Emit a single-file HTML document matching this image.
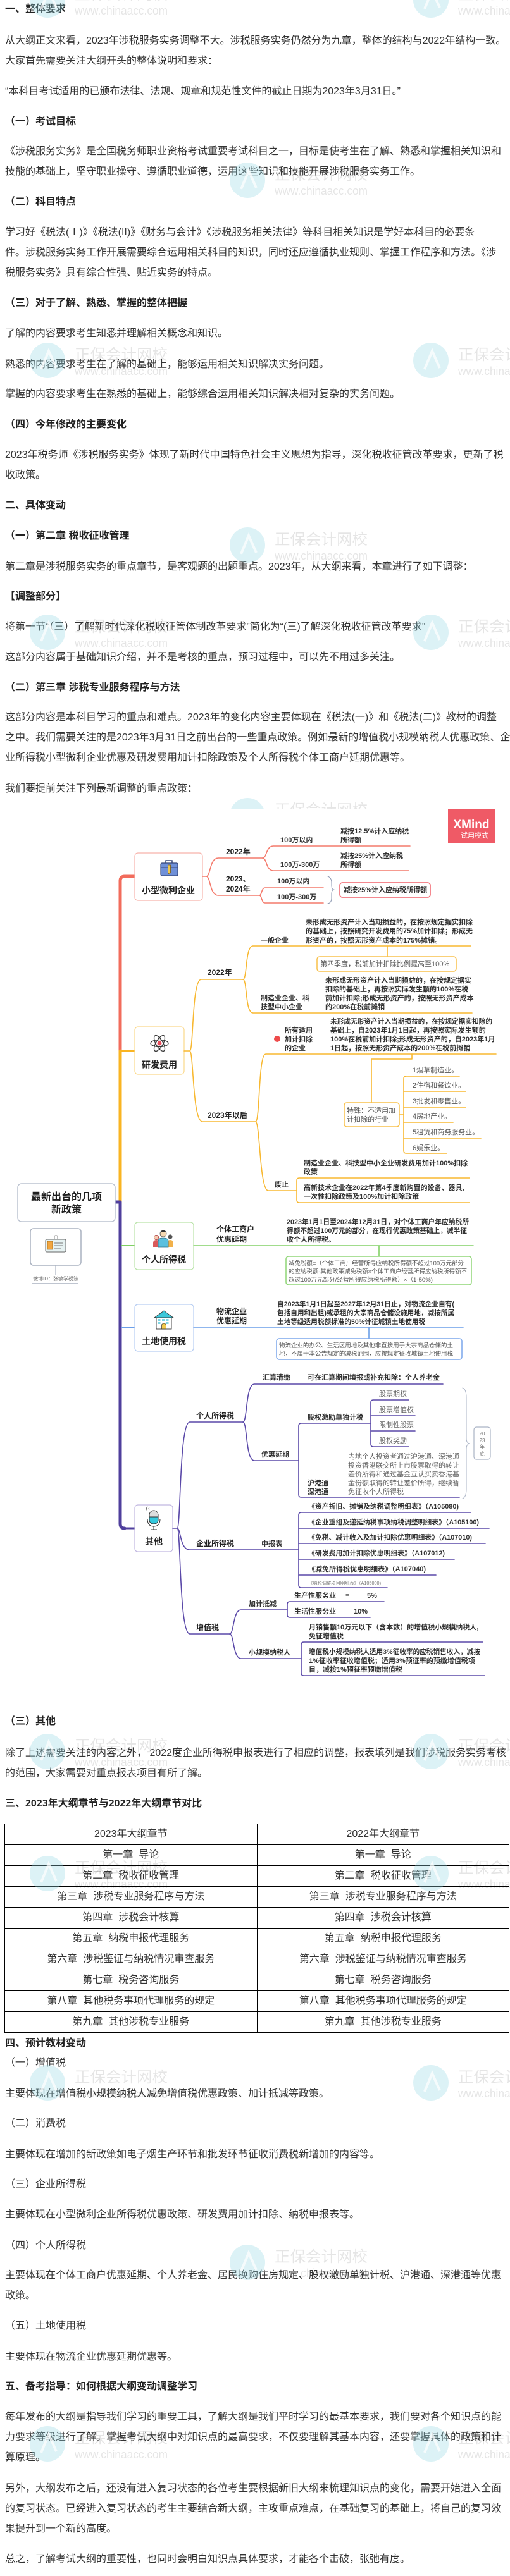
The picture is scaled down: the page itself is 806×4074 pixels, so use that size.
<!DOCTYPE html>
<html lang="zh-CN">
<head>
<meta charset="utf-8">
<title>2023年税务师《涉税服务实务》大纲变化</title>
<style>
html,body{margin:0;padding:0;background:#fff;}
body{width:806px;height:4074px;position:relative;overflow:hidden;font-family:"Liberation Sans","Noto Sans CJK SC",sans-serif;}
.p{position:absolute;left:8px;white-space:nowrap;font-size:16px;line-height:32px;color:#333;z-index:1;}
.h{font-weight:bold;color:#222;}
.wm{position:absolute;left:0;top:0;z-index:2;pointer-events:none;}
table.cmp{position:absolute;left:7px;top:2884px;width:798px;border-collapse:collapse;z-index:1;}
table.cmp td{border:1px solid #000;height:32px;padding:0;text-align:center;font-size:16px;line-height:32px;color:#333;width:50%;white-space:nowrap;}
svg.mm{position:absolute;left:0;top:1280px;z-index:3;}
svg.mm text{font-family:"Liberation Sans","Noto Sans CJK SC",sans-serif;}
.t{font-size:11px;font-weight:bold;fill:#333;}
.g{font-size:11px;fill:#666;}
.g5{font-size:11px;fill:#555;}
.b{font-size:12px;font-weight:bold;fill:#222;}
.n{font-size:14px;font-weight:bold;fill:#222;text-anchor:middle;}
.ln{fill:none;stroke-linecap:round;stroke-linejoin:round;}
</style>
</head>
<body>

<div class="p h" style="top:-1px">一、整体要求</div>
<div class="p" style="top:49px">从大纲正文来看，2023年涉税服务实务调整不大。涉税服务实务仍然分为九章，整体的结构与2022年结构一致。<br>大家首先需要关注大纲开头的整体说明和要求：</div>
<div class="p" style="top:129px">“本科目考试适用的已颁布法律、法规、规章和规范性文件的截止日期为2023年3月31日。”</div>
<div class="p h" style="top:177px">（一）考试目标</div>
<div class="p" style="top:224px">《涉税服务实务》是全国税务师职业资格考试重要考试科目之一，目标是使考生在了解、熟悉和掌握相关知识和<br>技能的基础上，坚守职业操守、遵循职业道德，运用这些知识和技能开展涉税服务实务工作。</div>
<div class="p h" style="top:304px">（二）科目特点</div>
<div class="p" style="top:352px">学习好《税法(Ⅰ)》《税法(II)》《财务与会计》《涉税服务相关法律》等科目相关知识是学好本科目的必要条<br>件。涉税服务实务工作开展需要综合运用相关科目的知识，同时还应遵循执业规则、掌握工作程序和方法。《涉<br>税服务实务》具有综合性强、贴近实务的特点。</div>
<div class="p h" style="top:464px">（三）对于了解、熟悉、掌握的整体把握</div>
<div class="p" style="top:512px">了解的内容要求考生知悉并理解相关概念和知识。</div>
<div class="p" style="top:561px">熟悉的内容要求考生在了解的基础上，能够运用相关知识解决实务问题。</div>
<div class="p" style="top:608px">掌握的内容要求考生在熟悉的基础上，能够综合运用相关知识解决相对复杂的实务问题。</div>
<div class="p h" style="top:656px">（四）今年修改的主要变化</div>
<div class="p" style="top:704px">2023年税务师《涉税服务实务》体现了新时代中国特色社会主义思想为指导，深化税收征管改革要求，更新了税<br>收政策。</div>
<div class="p h" style="top:784px">二、具体变动</div>
<div class="p h" style="top:832px">（一）第二章 税收征收管理</div>
<div class="p" style="top:881px">第二章是涉税服务实务的重点章节，是客观题的出题重点。2023年，从大纲来看，本章进行了如下调整：</div>
<div class="p h" style="top:928px">【调整部分】</div>
<div class="p" style="top:976px">将第一节“（三）了解新时代深化税收征管体制改革要求”简化为“(三)了解深化税收征管改革要求”</div>
<div class="p" style="top:1024px">这部分内容属于基础知识介绍，并不是考核的重点，预习过程中，可以先不用过多关注。</div>
<div class="p h" style="top:1072px">（二）第三章 涉税专业服务程序与方法</div>
<div class="p" style="top:1119px">这部分内容是本科目学习的重点和难点。2023年的变化内容主要体现在《税法(一)》和《税法(二)》教材的调整<br>之中。我们需要关注的是2023年3月31日之前出台的一些重点政策。例如最新的增值税小规模纳税人优惠政策、企<br>业所得税小型微利企业优惠及研发费用加计扣除政策及个人所得税个体工商户延期优惠等。</div>
<div class="p" style="top:1232px">我们要提前关注下列最新调整的重点政策：</div>

<div class="p h" style="top:2707px">（三）其他</div>
<div class="p" style="top:2757px">除了上述需要关注的内容之外， 2022度企业所得税申报表进行了相应的调整，报表填列是我们涉税服务实务考核<br>的范围，大家需要对重点报表项目有所了解。</div>
<div class="p h" style="top:2837px">三、2023年大纲章节与2022年大纲章节对比</div>

<table class="cmp">
<tr><td>2023年大纲章节</td><td>2022年大纲章节</td></tr>
<tr><td>第一章&nbsp; 导论</td><td>第一章&nbsp; 导论</td></tr>
<tr><td>第二章&nbsp; 税收征收管理</td><td>第二章&nbsp; 税收征收管理</td></tr>
<tr><td>第三章&nbsp; 涉税专业服务程序与方法</td><td>第三章&nbsp; 涉税专业服务程序与方法</td></tr>
<tr><td>第四章&nbsp; 涉税会计核算</td><td>第四章&nbsp; 涉税会计核算</td></tr>
<tr><td>第五章&nbsp; 纳税申报代理服务</td><td>第五章&nbsp; 纳税申报代理服务</td></tr>
<tr><td>第六章&nbsp; 涉税鉴证与纳税情况审查服务</td><td>第六章&nbsp; 涉税鉴证与纳税情况审查服务</td></tr>
<tr><td>第七章&nbsp; 税务咨询服务</td><td>第七章&nbsp; 税务咨询服务</td></tr>
<tr><td>第八章&nbsp; 其他税务事项代理服务的规定</td><td>第八章&nbsp; 其他税务事项代理服务的规定</td></tr>
<tr><td>第九章&nbsp; 其他涉税专业服务</td><td>第九章&nbsp; 其他涉税专业服务</td></tr>
</table>

<div class="p h" style="top:3216px">四、预计教材变动</div>
<div class="p" style="top:3247px">（一）增值税</div>
<div class="p" style="top:3296px">主要体现在增值税小规模纳税人减免增值税优惠政策、加计抵减等政策。</div>
<div class="p" style="top:3343px">（二）消费税</div>
<div class="p" style="top:3392px">主要体现在增加的新政策如电子烟生产环节和批发环节征收消费税新增加的内容等。</div>
<div class="p" style="top:3439px">（三）企业所得税</div>
<div class="p" style="top:3487px">主要体现在小型微利企业所得税优惠政策、研发费用加计扣除、纳税申报表等。</div>
<div class="p" style="top:3536px">（四）个人所得税</div>
<div class="p" style="top:3583px">主要体现在个体工商户优惠延期、个人养老金、居民换购住房规定、股权激励单独计税、沪港通、深港通等优惠<br>政策。</div>
<div class="p" style="top:3663px">（五）土地使用税</div>
<div class="p" style="top:3712px">主要体现在物流企业优惠延期优惠等。</div>
<div class="p h" style="top:3759px">五、备考指导：如何根据大纲变动调整学习</div>
<div class="p" style="top:3807px">每年发布的大纲是指导我们学习的重要工具，了解大纲是我们平时学习的最基本要求，我们要对各个知识点的能<br>力要求等级进行了解。掌握考试大纲中对知识点的最高要求，不仅要理解其基本内容，还要掌握具体的政策和计<br>算原理。</div>
<div class="p" style="top:3920px">另外，大纲发布之后，还没有进入复习状态的各位考生要根据新旧大纲来梳理知识点的变化，需要开始进入全面<br>的复习状态。已经进入复习状态的考生主要结合新大纲，主攻重点难点，在基础复习的基础上，将自己的复习效<br>果提升到一个新的高度。</div>
<div class="p" style="top:4032px">总之，了解考试大纲的重要性，也同时会明白知识点具体要求，才能各个击破，张弛有度。</div>

<!-- watermarks -->
<svg class="wm" width="806" height="4074" viewBox="0 0 806 4074">
<g style="font-family:'Liberation Sans','Noto Sans CJK SC',sans-serif">
<g transform="translate(75,0)"><circle r="28" fill="rgba(150,215,228,0.33)"/><path d="M-10 14 L2 -15 L14 12" fill="none" stroke="rgba(255,255,255,0.7)" stroke-width="4"/><text x="43" y="-1" font-size="24" fill="rgba(0,0,0,0.1)" textLength="147" lengthAdjust="spacingAndGlyphs">正保会计网校</text><text x="43" y="23" font-size="18" fill="rgba(0,0,0,0.1)" textLength="147" lengthAdjust="spacingAndGlyphs">www.chinaacc.com</text></g>
<g transform="translate(681,0)"><circle r="28" fill="rgba(150,215,228,0.33)"/><path d="M-10 14 L2 -15 L14 12" fill="none" stroke="rgba(255,255,255,0.7)" stroke-width="4"/><text x="43" y="-1" font-size="24" fill="rgba(0,0,0,0.1)" textLength="147" lengthAdjust="spacingAndGlyphs">正保会计网校</text><text x="43" y="23" font-size="18" fill="rgba(0,0,0,0.1)" textLength="147" lengthAdjust="spacingAndGlyphs">www.chinaacc.com</text></g>
<g transform="translate(391,285)"><circle r="28" fill="rgba(150,215,228,0.33)"/><path d="M-10 14 L2 -15 L14 12" fill="none" stroke="rgba(255,255,255,0.7)" stroke-width="4"/><text x="43" y="-1" font-size="24" fill="rgba(0,0,0,0.1)" textLength="147" lengthAdjust="spacingAndGlyphs">正保会计网校</text><text x="43" y="23" font-size="18" fill="rgba(0,0,0,0.1)" textLength="147" lengthAdjust="spacingAndGlyphs">www.chinaacc.com</text></g>
<g transform="translate(75,570)"><circle r="28" fill="rgba(150,215,228,0.33)"/><path d="M-10 14 L2 -15 L14 12" fill="none" stroke="rgba(255,255,255,0.7)" stroke-width="4"/><text x="43" y="-1" font-size="24" fill="rgba(0,0,0,0.1)" textLength="147" lengthAdjust="spacingAndGlyphs">正保会计网校</text><text x="43" y="23" font-size="18" fill="rgba(0,0,0,0.1)" textLength="147" lengthAdjust="spacingAndGlyphs">www.chinaacc.com</text></g>
<g transform="translate(681,570)"><circle r="28" fill="rgba(150,215,228,0.33)"/><path d="M-10 14 L2 -15 L14 12" fill="none" stroke="rgba(255,255,255,0.7)" stroke-width="4"/><text x="43" y="-1" font-size="24" fill="rgba(0,0,0,0.1)" textLength="147" lengthAdjust="spacingAndGlyphs">正保会计网校</text><text x="43" y="23" font-size="18" fill="rgba(0,0,0,0.1)" textLength="147" lengthAdjust="spacingAndGlyphs">www.chinaacc.com</text></g>
<g transform="translate(391,862)"><circle r="28" fill="rgba(150,215,228,0.33)"/><path d="M-10 14 L2 -15 L14 12" fill="none" stroke="rgba(255,255,255,0.7)" stroke-width="4"/><text x="43" y="-1" font-size="24" fill="rgba(0,0,0,0.1)" textLength="147" lengthAdjust="spacingAndGlyphs">正保会计网校</text><text x="43" y="23" font-size="18" fill="rgba(0,0,0,0.1)" textLength="147" lengthAdjust="spacingAndGlyphs">www.chinaacc.com</text></g>
<g transform="translate(75,1000)"><circle r="28" fill="rgba(150,215,228,0.33)"/><path d="M-10 14 L2 -15 L14 12" fill="none" stroke="rgba(255,255,255,0.7)" stroke-width="4"/><text x="43" y="-1" font-size="24" fill="rgba(0,0,0,0.1)" textLength="147" lengthAdjust="spacingAndGlyphs">正保会计网校</text><text x="43" y="23" font-size="18" fill="rgba(0,0,0,0.1)" textLength="147" lengthAdjust="spacingAndGlyphs">www.chinaacc.com</text></g>
<g transform="translate(681,1000)"><circle r="28" fill="rgba(150,215,228,0.33)"/><path d="M-10 14 L2 -15 L14 12" fill="none" stroke="rgba(255,255,255,0.7)" stroke-width="4"/><text x="43" y="-1" font-size="24" fill="rgba(0,0,0,0.1)" textLength="147" lengthAdjust="spacingAndGlyphs">正保会计网校</text><text x="43" y="23" font-size="18" fill="rgba(0,0,0,0.1)" textLength="147" lengthAdjust="spacingAndGlyphs">www.chinaacc.com</text></g>
<g transform="translate(391,1290)"><circle r="28" fill="rgba(150,215,228,0.33)"/><text x="43" y="-1" font-size="24" fill="rgba(0,0,0,0.1)" textLength="147" lengthAdjust="spacingAndGlyphs">正保会计网校</text></g>
<g transform="translate(75,2770)"><circle r="28" fill="rgba(150,215,228,0.33)"/><path d="M-10 14 L2 -15 L14 12" fill="none" stroke="rgba(255,255,255,0.7)" stroke-width="4"/><text x="43" y="-1" font-size="24" fill="rgba(0,0,0,0.1)" textLength="147" lengthAdjust="spacingAndGlyphs">正保会计网校</text><text x="43" y="23" font-size="18" fill="rgba(0,0,0,0.1)" textLength="147" lengthAdjust="spacingAndGlyphs">www.chinaacc.com</text></g>
<g transform="translate(681,2770)"><circle r="28" fill="rgba(150,215,228,0.33)"/><path d="M-10 14 L2 -15 L14 12" fill="none" stroke="rgba(255,255,255,0.7)" stroke-width="4"/><text x="43" y="-1" font-size="24" fill="rgba(0,0,0,0.1)" textLength="147" lengthAdjust="spacingAndGlyphs">正保会计网校</text><text x="43" y="23" font-size="18" fill="rgba(0,0,0,0.1)" textLength="147" lengthAdjust="spacingAndGlyphs">www.chinaacc.com</text></g>
<g transform="translate(75,2963)"><circle r="28" fill="rgba(150,215,228,0.33)"/><path d="M-10 14 L2 -15 L14 12" fill="none" stroke="rgba(255,255,255,0.7)" stroke-width="4"/><text x="43" y="-1" font-size="24" fill="rgba(0,0,0,0.1)" textLength="147" lengthAdjust="spacingAndGlyphs">正保会计网校</text><text x="43" y="23" font-size="18" fill="rgba(0,0,0,0.1)" textLength="147" lengthAdjust="spacingAndGlyphs">www.chinaacc.com</text></g>
<g transform="translate(681,2963)"><circle r="28" fill="rgba(150,215,228,0.33)"/><path d="M-10 14 L2 -15 L14 12" fill="none" stroke="rgba(255,255,255,0.7)" stroke-width="4"/><text x="43" y="-1" font-size="24" fill="rgba(0,0,0,0.1)" textLength="147" lengthAdjust="spacingAndGlyphs">正保会计网校</text><text x="43" y="23" font-size="18" fill="rgba(0,0,0,0.1)" textLength="147" lengthAdjust="spacingAndGlyphs">www.chinaacc.com</text></g>
<g transform="translate(75,3294)"><circle r="28" fill="rgba(150,215,228,0.33)"/><path d="M-10 14 L2 -15 L14 12" fill="none" stroke="rgba(255,255,255,0.7)" stroke-width="4"/><text x="43" y="-1" font-size="24" fill="rgba(0,0,0,0.1)" textLength="147" lengthAdjust="spacingAndGlyphs">正保会计网校</text><text x="43" y="23" font-size="18" fill="rgba(0,0,0,0.1)" textLength="147" lengthAdjust="spacingAndGlyphs">www.chinaacc.com</text></g>
<g transform="translate(681,3294)"><circle r="28" fill="rgba(150,215,228,0.33)"/><path d="M-10 14 L2 -15 L14 12" fill="none" stroke="rgba(255,255,255,0.7)" stroke-width="4"/><text x="43" y="-1" font-size="24" fill="rgba(0,0,0,0.1)" textLength="147" lengthAdjust="spacingAndGlyphs">正保会计网校</text><text x="43" y="23" font-size="18" fill="rgba(0,0,0,0.1)" textLength="147" lengthAdjust="spacingAndGlyphs">www.chinaacc.com</text></g>
<g transform="translate(391,3578)"><circle r="28" fill="rgba(150,215,228,0.33)"/><path d="M-10 14 L2 -15 L14 12" fill="none" stroke="rgba(255,255,255,0.7)" stroke-width="4"/><text x="43" y="-1" font-size="24" fill="rgba(0,0,0,0.1)" textLength="147" lengthAdjust="spacingAndGlyphs">正保会计网校</text><text x="43" y="23" font-size="18" fill="rgba(0,0,0,0.1)" textLength="147" lengthAdjust="spacingAndGlyphs">www.chinaacc.com</text></g>
<g transform="translate(75,3865)"><circle r="28" fill="rgba(150,215,228,0.33)"/><path d="M-10 14 L2 -15 L14 12" fill="none" stroke="rgba(255,255,255,0.7)" stroke-width="4"/><text x="43" y="-1" font-size="24" fill="rgba(0,0,0,0.1)" textLength="147" lengthAdjust="spacingAndGlyphs">正保会计网校</text><text x="43" y="23" font-size="18" fill="rgba(0,0,0,0.1)" textLength="147" lengthAdjust="spacingAndGlyphs">www.chinaacc.com</text></g>
<g transform="translate(681,3865)"><circle r="28" fill="rgba(150,215,228,0.33)"/><path d="M-10 14 L2 -15 L14 12" fill="none" stroke="rgba(255,255,255,0.7)" stroke-width="4"/><text x="43" y="-1" font-size="24" fill="rgba(0,0,0,0.1)" textLength="147" lengthAdjust="spacingAndGlyphs">正保会计网校</text><text x="43" y="23" font-size="18" fill="rgba(0,0,0,0.1)" textLength="147" lengthAdjust="spacingAndGlyphs">www.chinaacc.com</text></g>
</g>
</svg>

<!-- mind map -->
<svg class="mm" width="806" height="1410" viewBox="0 1280 806 1410">
<rect x="0" y="1280" width="806" height="1410" fill="#fff"/>

<!-- XMind badge -->
<rect x="708" y="1280" width="74" height="54" fill="#ef5a66"/>
<text x="745" y="1310" text-anchor="middle" style="font-size:19px;font-weight:bold;fill:#fff">XMind</text>
<text x="750" y="1325" text-anchor="middle" style="font-size:11px;fill:#fff">试用模式</text>

<!-- trunk -->
<path class="ln" d="M213 1386 H197 Q190 1386 190 1393 V1662" stroke="#f26c5c" stroke-width="5"/>
<path class="ln" d="M190 1662 V1901" stroke="#f9b422" stroke-width="5"/>
<path class="ln" d="M190 1662 H213" stroke="#f9b422" stroke-width="3"/>
<path class="ln" d="M182 1901 H190 V2410 Q190 2417 197 2417" stroke="#4f3f9c" stroke-width="5"/>
<path class="ln" d="M197 2417 H213" stroke="#4f3f9c" stroke-width="3"/>
<path class="ln" d="M192 1970 H213" stroke="#7fcf63" stroke-width="2"/>
<path class="ln" d="M192 2099 H213" stroke="#6a9ee8" stroke-width="2"/>

<!-- root -->
<rect x="28" y="1872" width="154" height="60" rx="6" fill="#fff" stroke="#bcc3d0" stroke-width="1.5"/>
<text x="105" y="1898" text-anchor="middle" style="font-size:16px;font-weight:bold;fill:#1e1e1e">最新出台的几项</text>
<text x="105" y="1918" text-anchor="middle" style="font-size:16px;font-weight:bold;fill:#1e1e1e">新政策</text>
<rect x="48" y="1943" width="80" height="58" rx="5" fill="#fff" stroke="#aab2c0" stroke-width="1.5"/>
<rect x="86" y="1954" width="5" height="7" rx="1.5" fill="#fff" stroke="#666" stroke-width="0.8"/>
<rect x="72" y="1960" width="32" height="20" rx="2" fill="#e6f2f2" stroke="#666" stroke-width="1"/>
<rect x="75" y="1963" width="8" height="13" fill="#f2a640" stroke="#8a5a10" stroke-width="0.6"/>
<path d="M86 1966 H100 M86 1970 H100 M86 1974 H97" stroke="#777" stroke-width="1"/>
<path d="M88 2001 V2016" stroke="#aab2c0" stroke-width="1.2"/>
<text x="88" y="2025" text-anchor="middle" style="font-size:8px;fill:#666">微博ID：张敏学税法</text>
<path d="M51 2030 H124" stroke="#aab2c0" stroke-width="1.5"/>

<!-- ========== branch 1: 小型微利企业 ========== -->
<rect x="213" y="1349" width="107" height="75" rx="5" fill="#fff" stroke="#f7b2aa" stroke-width="1.2"/>
<path d="M262 1365 V1361 H272 V1365" fill="none" stroke="#34467a" stroke-width="1.5"/>
<rect x="254" y="1365" width="27" height="20" rx="2" fill="#6f90d8" stroke="#34467a" stroke-width="1.2"/>
<line x1="254" y1="1372" x2="281" y2="1372" stroke="#34467a" stroke-width="1"/>
<path d="M265.5 1368 V1380 Q267.5 1384 269.5 1380 V1368 Z" fill="#f2c94c" stroke="#7a5a10" stroke-width="0.8"/>
<text class="n" x="266" y="1413">小型微利企业</text>

<g stroke="#f47a6c" stroke-width="1.6" class="ln">
<path d="M320 1386 H326 C333 1386 331 1357 345 1357 H415"/>
<path d="M326 1386 C333 1386 331 1416 345 1416 H410"/>
<path d="M415 1357 C422 1357 420 1338 432 1338 H648"/>
<path d="M415 1357 C422 1357 420 1377 432 1377 H646"/>
<path d="M410 1416 C414 1416 413 1404 419 1404 H511"/>
<path d="M410 1416 C414 1416 413 1428 419 1428 H511"/>
</g>
<path class="ln" d="M518 1386 Q524 1388 524 1396 V1400 Q524 1407 528 1407 Q524 1407 524 1414 V1420 Q524 1428 518 1429" stroke="#8a96b0" stroke-width="1"/>
<rect x="537" y="1396" width="143" height="23" rx="4" fill="#fff" stroke="#f0606a" stroke-width="1.5"/>
<text class="t" x="543" y="1411">减按25%计入应纳税所得额</text>
<text class="b" x="357" y="1351">2022年</text>
<text class="t" x="443" y="1332">100万以内</text>
<text class="t" x="538" y="1318">减按12.5%计入应纳税</text>
<text class="t" x="538" y="1332">所得额</text>
<text class="t" x="443" y="1371">100万-300万</text>
<text class="t" x="538" y="1357">减按25%计入应纳税</text>
<text class="t" x="538" y="1371">所得额</text>
<text class="b" x="357" y="1394">2023、</text>
<text class="b" x="357" y="1410">2024年</text>
<text class="t" x="438" y="1397">100万以内</text>
<text class="t" x="438" y="1422">100万-300万</text>

<!-- ========== branch 2: 研发费用 ========== -->
<rect x="213" y="1624" width="78" height="75" rx="5" fill="#fff" stroke="#fbd88a" stroke-width="1.2"/>
<g fill="none" stroke="#333" stroke-width="1.3">
<ellipse cx="252" cy="1650" rx="14" ry="5.5"/>
<ellipse cx="252" cy="1650" rx="14" ry="5.5" transform="rotate(60 252 1650)"/>
<ellipse cx="252" cy="1650" rx="14" ry="5.5" transform="rotate(-60 252 1650)"/>
</g>
<circle cx="252" cy="1650" r="3.5" fill="#e84a5a"/>
<text class="n" x="252" y="1689">研发费用</text>

<g stroke="#f8b830" stroke-width="1.6" class="ln">
<path d="M291 1662 H300 C306 1662 303 1549 318 1549 H384"/>
<path d="M300 1662 C306 1662 304 1774 320 1774 H404"/>
<path d="M384 1549 C391 1549 387 1496 400 1496 H744"/>
<path d="M384 1549 C391 1549 387 1602 400 1602 H746"/>
<path d="M612 1496 V1513"/>
<path d="M404 1774 C411 1774 408 1667 420 1667 H784"/>
<path d="M404 1774 C411 1774 410 1883 424 1883 H469"/>
<path d="M651 1667 V1675 H587 V1744"/>
<path d="M631 1763 H638"/>
<path d="M638 1763 V1706 Q638 1702 642 1702 H726"/>
<path d="M638 1726 H736"/>
<path d="M638 1751 H736"/>
<path d="M638 1775 H716"/>
<path d="M638 1800 H760"/>
<path d="M638 1763 V1820 Q638 1824 642 1824 H706"/>
<path d="M469 1883 V1867 Q469 1863 473 1863 H742"/>
<path d="M469 1883 V1898 Q469 1902 473 1902 H742"/>
</g>
<rect x="501" y="1513" width="220" height="23" rx="4" fill="#fff" stroke="#f8c04a" stroke-width="1.5"/>
<text class="g5" x="506" y="1528">第四季度，税前加计扣除比例提高至100%</text>
<rect x="544" y="1744" width="87" height="38" rx="4" fill="#fff" stroke="#f8c04a" stroke-width="1.5"/>
<text class="g5" x="548" y="1760">特殊：不适用加</text>
<text class="g5" x="548" y="1774">计扣除的行业</text>

<text class="b" x="328" y="1542">2022年</text>
<text class="t" x="412" y="1491">一般企业</text>
<text class="t" x="483" y="1462">未形成无形资产计入当期损益的，在按照规定据实扣除</text>
<text class="t" x="483" y="1476">的基础上，按照研究开发费用的75%加计扣除；形成无</text>
<text class="t" x="483" y="1491">形资产的，按照无形资产成本的175%摊销。</text>
<text class="t" x="412" y="1582">制造业企业、科</text>
<text class="t" x="412" y="1596">技型中小企业</text>
<text class="t" x="514" y="1554">未形成无形资产计入当期损益的，在按规定据实</text>
<text class="t" x="514" y="1568">扣除的基础上，再按照实际发生额的100%在税</text>
<text class="t" x="514" y="1582">前加计扣除;形成无形资产的，按照无形资产成本</text>
<text class="t" x="514" y="1596">的200%在税前摊销</text>
<text class="b" x="328" y="1768">2023年以后</text>
<circle cx="438" cy="1643" r="5" fill="#ee4b4b"/>
<text class="t" x="450" y="1633">所有适用</text>
<text class="t" x="450" y="1647">加计扣除</text>
<text class="t" x="450" y="1661">的企业</text>
<text class="t" x="522" y="1619" textLength="256" lengthAdjust="spacingAndGlyphs">未形成无形资产计入当期损益的，在按规定据实扣除的</text>
<text class="t" x="522" y="1633">基础上，自2023年1月1日起，再按照实际发生额的</text>
<text class="t" x="522" y="1647">100%在税前加计扣除;形成无形资产的，自2023年1月</text>
<text class="t" x="522" y="1661">1日起，按照无形资产成本的200%在税前摊销</text>
<text class="g5" x="652" y="1696">1烟草制造业。</text>
<text class="g5" x="652" y="1720">2住宿和餐饮业。</text>
<text class="g5" x="652" y="1745">3批发和零售业。</text>
<text class="g5" x="652" y="1769">4房地产业。</text>
<text class="g5" x="652" y="1794">5租赁和商务服务业。</text>
<text class="g5" x="652" y="1819">6娱乐业。</text>
<text class="t" x="434" y="1877">废止</text>
<text class="t" x="480" y="1843">制造业企业、科技型中小企业研发费用加计100%扣除</text>
<text class="t" x="480" y="1857">政策</text>
<text class="t" x="480" y="1882">高新技术企业在2022年第4季度新购置的设备、器具,</text>
<text class="t" x="480" y="1896">一次性扣除政策及100%加计扣除政策</text>

<!-- ========== branch 3: 个人所得税 ========== -->
<rect x="213" y="1933" width="93" height="75" rx="5" fill="#fff" stroke="#b9e3a8" stroke-width="1.2"/>
<path d="M242 1972 V1966 Q242 1961 247 1961 Q252 1961 252 1966 V1972 Z" fill="#d95a5a"/>
<circle cx="247" cy="1957" r="3.6" fill="#f3c9b0" stroke="#a33" stroke-width="0.8"/>
<path d="M264 1972 V1966 Q264 1961 269 1961 Q274 1961 274 1966 V1972 Z" fill="#f2b14a"/>
<circle cx="269" cy="1956" r="3.6" fill="#555"/>
<path d="M250 1972 V1963 Q250 1958 258 1958 Q266 1958 266 1963 V1972 Z" fill="#5bc0de" stroke="#2a6f86" stroke-width="0.8"/>
<circle cx="258" cy="1951" r="5" fill="#f5d7b0" stroke="#555" stroke-width="0.8"/>
<path d="M253 1949 Q258 1943 263 1949" fill="#333"/>
<text class="n" x="259" y="1997">个人所得税</text>
<g stroke="#82d066" stroke-width="1.6" class="ln">
<path d="M306 1970 H748"/>
<path d="M599 1970 V1987"/>
</g>
<rect x="452" y="1987" width="293" height="45" rx="4" fill="#fff" stroke="#8fd676" stroke-width="1.5"/>
<text class="b" x="342" y="1948">个体工商户</text>
<text class="b" x="342" y="1964">优惠延期</text>
<text class="t" x="453" y="1936" textLength="288" lengthAdjust="spacingAndGlyphs">2023年1月1日至2024年12月31日，对个体工商户年应纳税所</text>
<text class="t" x="453" y="1950" textLength="285" lengthAdjust="spacingAndGlyphs">得额不超过100万元的部分，在现行优惠政策基础上，减半征</text>
<text class="t" x="453" y="1964">收个人所得税。</text>
<text x="456" y="2001" textLength="277" lengthAdjust="spacingAndGlyphs" style="font-size:9.5px;fill:#555">减免税额=（个体工商户经营所得应纳税所得额不超过100万元部分</text>
<text x="456" y="2014" textLength="282" lengthAdjust="spacingAndGlyphs" style="font-size:9.5px;fill:#555">的应纳税额-其他政策减免税额×个体工商户经营所得应纳税所得额不</text>
<text x="456" y="2027" textLength="228" lengthAdjust="spacingAndGlyphs" style="font-size:9.5px;fill:#555">超过100万元部分/经营所得应纳税所得额）×（1-50%)</text>

<!-- ========== branch 4: 土地使用税 ========== -->
<rect x="213" y="2063" width="93" height="74" rx="5" fill="#fff" stroke="#b6cdf2" stroke-width="1.2"/>
<rect x="247" y="2083" width="24" height="19" fill="#fff" stroke="#333" stroke-width="0.9"/>
<path d="M244 2084 L259 2073 L274 2084 Z" fill="#3cc8da" stroke="#333" stroke-width="0.9"/>
<g fill="#7fd6e4"><rect x="249.5" y="2086" width="4" height="3"/><rect x="256" y="2086" width="4" height="3"/><rect x="262.5" y="2086" width="4" height="3"/><rect x="249.5" y="2091" width="4" height="3"/><rect x="262.5" y="2091" width="4" height="3"/></g>
<path d="M255.5 2102 V2095 Q259 2091 262.5 2095 V2102 Z" fill="#f2c94c" stroke="#333" stroke-width="0.7"/>
<text class="n" x="259" y="2126">土地使用税</text>
<g stroke="#6a9ee8" stroke-width="1.6" class="ln">
<path d="M306 2099 H732"/>
<path d="M583 2099 V2117"/>
</g>
<rect x="437" y="2117" width="293" height="33" rx="4" fill="#fff" stroke="#7aa6ec" stroke-width="1.5"/>
<text class="b" x="342" y="2078">物流企业</text>
<text class="b" x="342" y="2093">优惠延期</text>
<text class="t" x="438" y="2066" textLength="280" lengthAdjust="spacingAndGlyphs">自2023年1月1日起至2027年12月31日止，对物流企业自有(</text>
<text class="t" x="438" y="2080" textLength="280" lengthAdjust="spacingAndGlyphs">包括自用和出租)或承租的大宗商品仓储设施用地，减按所属</text>
<text class="t" x="438" y="2094" textLength="234" lengthAdjust="spacingAndGlyphs">土地等级适用税额标准的50%计征城镇土地使用税</text>
<text x="441" y="2131" textLength="275" lengthAdjust="spacingAndGlyphs" style="font-size:9.5px;fill:#555">物流企业的办公、生活区用地及其他非直接用于大宗商品仓储的土</text>
<text x="441" y="2144" textLength="275" lengthAdjust="spacingAndGlyphs" style="font-size:9.5px;fill:#555">地，不属于本公告规定的减税范围，应按规定征收城镇土地使用税</text>

<!-- ========== branch 5: 其他 ========== -->
<rect x="213" y="2380" width="60" height="74" rx="5" fill="#fff" stroke="#c0b6e0" stroke-width="1.2"/>
<path d="M236 2388 Q234 2386 236 2384 M233 2390 Q230 2386 233 2382" fill="none" stroke="#555" stroke-width="0.8"/>
<rect x="236" y="2389" width="14" height="21" rx="7" fill="#ddd" stroke="#333" stroke-width="1"/>
<path d="M236 2399 H250 V2403 Q250 2410 243 2410 Q236 2410 236 2403 Z" fill="#35c9dd" stroke="#333" stroke-width="1"/>
<path d="M233 2402 Q233 2414 243 2414 Q253 2414 253 2402 M243 2414 V2419 M238 2419 H248" fill="none" stroke="#333" stroke-width="1"/>
<text class="n" x="243" y="2443">其他</text>

<g stroke="#5a48a8" stroke-width="1.6" class="ln">
<path d="M273 2417 H280 C286 2417 283 2249 300 2249 H384"/>
<path d="M280 2417 C286 2417 284 2451 300 2451 H472"/>
<path d="M280 2417 C286 2417 283 2584 300 2584 H363"/>
<path d="M384 2249 C391 2249 388 2189 402 2189 H700"/>
<path d="M384 2249 C391 2249 388 2310 402 2310 H472"/>
<path d="M472 2310 V2255 Q472 2251 476 2251 H586"/>
<path d="M472 2310 V2364 Q472 2368 476 2368 H726"/>
<path d="M586 2251 V2218 Q586 2214 590 2214 H646"/>
<path d="M586 2239 H656"/>
<path d="M586 2263 H656"/>
<path d="M586 2251 V2284 Q586 2288 590 2288 H646"/>
<path d="M472 2451 V2396 Q472 2392 476 2392 H744"/>
<path d="M472 2417 H773"/>
<path d="M472 2441 H767"/>
<path d="M472 2466 H718"/>
<path d="M472 2491 H689"/>
<path d="M472 2451 V2507 Q472 2511 476 2511 H612"/>
<path d="M363 2584 C370 2584 368 2546 381 2546 H454"/>
<path d="M363 2584 C370 2584 368 2623 381 2623 H476"/>
<path d="M454 2546 V2537 Q454 2533 458 2533 H607"/>
<path d="M454 2546 V2554 Q454 2558 458 2558 H585"/>
<path d="M476 2623 V2601 Q476 2597 480 2597 H763"/>
<path d="M476 2623 V2646 Q476 2650 480 2650 H766"/>
</g>
<path class="ln" d="M731 2195 Q737 2197 737 2210 V2275 Q737 2282 742 2283 Q737 2284 737 2292 V2355 Q737 2368 731 2370" stroke="#aab3c5" stroke-width="1"/>
<rect x="749" y="2257" width="26" height="51" rx="4" fill="#fff" stroke="#aab3c5" stroke-width="1.2"/>
<text x="762" y="2270" text-anchor="middle" style="font-size:8px;fill:#777">20</text>
<text x="762" y="2281" text-anchor="middle" style="font-size:8px;fill:#777">23</text>
<text x="762" y="2291" text-anchor="middle" style="font-size:8px;fill:#777">年</text>
<text x="762" y="2302" text-anchor="middle" style="font-size:8px;fill:#777">底</text>

<text class="b" x="310" y="2243">个人所得税</text>
<text class="b" x="310" y="2445">企业所得税</text>
<text class="t" x="413" y="2445">申报表</text>
<text class="b" x="310" y="2578">增值税</text>
<text class="t" x="415" y="2182">汇算清缴</text>
<text class="t" x="486" y="2182">可在汇算期间填报或补充扣除：个人养老金</text>
<text class="t" x="413" y="2304">优惠延期</text>
<text class="t" x="486" y="2245">股权激励单独计税</text>
<text class="g" x="599" y="2208">股票期权</text>
<text class="g" x="599" y="2233">股票增值权</text>
<text class="g" x="599" y="2257">限制性股票</text>
<text class="g" x="599" y="2282">股权奖励</text>
<text class="t" x="486" y="2349">沪港通</text>
<text class="t" x="486" y="2363">深港通</text>
<text class="g" x="550" y="2307">内地个人投资者通过沪港通、深港通</text>
<text class="g" x="550" y="2321">投资香港联交所上市股票取得的转让</text>
<text class="g" x="550" y="2335">差价所得和通过基金互认买卖香港基</text>
<text class="g" x="550" y="2349">金份额取得的转让差价所得，继续暂</text>
<text class="g" x="550" y="2363">免征收个人所得税</text>

<text class="t" x="487" y="2386" textLength="238" lengthAdjust="spacingAndGlyphs">《资产折旧、摊销及纳税调整明细表》（A105080)</text>
<text class="t" x="487" y="2411" textLength="270" lengthAdjust="spacingAndGlyphs">《企业重组及递延纳税事项纳税调整明细表》（A105100)</text>
<text class="t" x="487" y="2435" textLength="259" lengthAdjust="spacingAndGlyphs">《免税、减计收入及加计扣除优惠明细表》（A107010)</text>
<text class="t" x="487" y="2460" textLength="216" lengthAdjust="spacingAndGlyphs">《研发费用加计扣除优惠明细表》（A107012)</text>
<text class="t" x="487" y="2485" textLength="186" lengthAdjust="spacingAndGlyphs">《减免所得税优惠明细表》（A107040)</text>
<text x="487" y="2506" textLength="115" lengthAdjust="spacingAndGlyphs" style="font-size:7px;fill:#777">《纳税调整项目明细表》（A105000)</text>

<text class="t" x="393" y="2540">加计抵减</text>
<text class="t" x="393" y="2617">小规模纳税人</text>
<text class="t" x="465" y="2527">生产性服务业</text>
<text class="g" x="546" y="2527">≡</text>
<text class="t" x="580" y="2527">5%</text>
<text class="t" x="465" y="2552">生活性服务业</text>
<text class="t" x="559" y="2552">10%</text>
<text class="t" x="488" y="2577">月销售额10万元以下（含本数）的增值税小规模纳税人,</text>
<text class="t" x="488" y="2591">免征增值税</text>
<text class="t" x="488" y="2616" textLength="271" lengthAdjust="spacingAndGlyphs">增值税小规模纳税人适用3%征收率的应税销售收入，减按</text>
<text class="t" x="488" y="2630">1%征收率征收增值税；适用3%预征率的预缴增值税项</text>
<text class="t" x="488" y="2644">目，减按1%预征率预缴增值税</text>
</svg>

</body>
</html>
